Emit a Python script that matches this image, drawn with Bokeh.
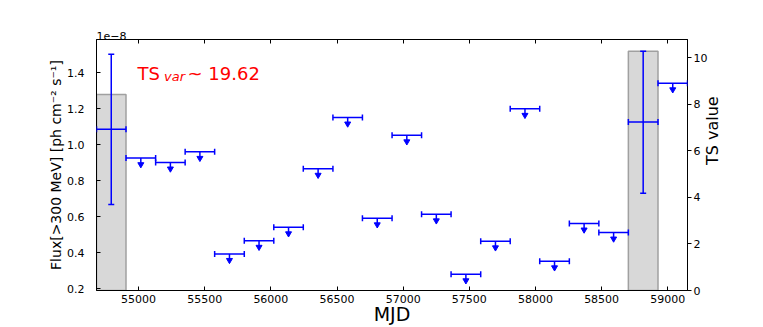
import math
from bokeh.plotting import figure
from bokeh.models import (Range1d, LinearAxis, FixedTicker, Whisker, TeeHead,
                          ColumnDataSource, Label, Title, PrintfTickFormatter)
from bokeh.embed import file_html
from bokeh.resources import INLINE

# ---------------- data (flux in units of 1e-8 ph cm^-2 s^-1) ----------------
bin_edges = [54682, 54905, 55129, 55352, 55575, 55799, 56022, 56245, 56469,
             56692, 56916, 57139, 57362, 57586, 57809, 58032, 58256, 58479,
             58702, 58926, 59149]

det_bins = [0, 18]
det_flux = [1.087, 1.126]
det_flux_lo = [0.668, 0.731]
det_flux_hi = [1.503, 1.520]
det_ts = [8.42, 10.27]

ul_bins = [1, 2, 3, 4, 5, 6, 7, 8, 9, 10, 11, 12, 13, 14, 15, 16, 17, 19]
ul_flux = [0.926, 0.902, 0.961, 0.394, 0.467, 0.542, 0.867, 1.152, 0.592,
           1.053, 0.614, 0.281, 0.464, 1.200, 0.353, 0.563, 0.513, 1.342]

x_ticks = [55000, 55500, 56000, 56500, 57000, 57500, 58000, 58500, 59000]
flux_ticks = [0.2, 0.4, 0.6, 0.8, 1.0, 1.2, 1.4]
ts_ticks = [0, 2, 4, 6, 8, 10]

ts_var = 19.62
# ---------------------------------------------------------------------------

FONT = "DejaVu Sans"
BLUE = "#0000ff"

x_lo, x_hi = bin_edges[0], bin_edges[-1]
y_lo, y_hi = 0.1906, 1.585
ts_hi = 10.78

p = figure(width=763, height=327, output_backend="svg", toolbar_location=None,
           x_range=Range1d(x_lo, x_hi), y_range=Range1d(y_lo, y_hi),
           min_border_left=96, min_border_right=76, min_border_top=39,
           min_border_bottom=37, background_fill_color="white",
           border_fill_color="white")
p.extra_y_ranges = {"ts": Range1d(0, ts_hi)}
p.xgrid.visible = False
p.ygrid.visible = False
p.outline_line_color = "black"
p.outline_line_width = 1


def style_axis(ax, ticks, tin, tout, standoff):
    ax.ticker = FixedTicker(ticks=ticks)
    ax.major_tick_in = tin
    ax.major_tick_out = tout
    ax.minor_tick_line_color = None
    ax.major_tick_line_color = "black"
    ax.axis_line_color = "black"
    ax.major_label_text_font = FONT
    ax.major_label_text_font_size = "11px"
    ax.major_label_text_color = "black"
    ax.major_label_standoff = standoff
    ax.axis_label_text_font = FONT
    ax.axis_label_text_font_style = "normal"
    ax.axis_label_text_color = "black"


xa = p.xaxis[0]
style_axis(xa, x_ticks, 4, 0, 4)
xa.axis_label = "MJD"
xa.axis_label_text_font_size = "19px"
xa.axis_label_standoff = -3

ya = p.yaxis[0]
style_axis(ya, flux_ticks, 4, 0, 12)
ya.formatter = PrintfTickFormatter(format="%.1f")
ya.axis_label = "Flux[>300 MeV] [ph cm\u207b\u00b2 s\u207b\u00b9]"
ya.axis_label_text_font_size = "14px"
ya.axis_label_standoff = 0

top = LinearAxis()
style_axis(top, x_ticks, 4, 0, 0)
top.major_label_overrides = {t: "" for t in x_ticks}
top.major_label_text_font_size = "1px"
p.add_layout(top, "above")

p.add_layout(Title(text="1e\u22128", align="left", offset=0, standoff=0,
                   text_font=FONT, text_font_size="11px",
                   text_font_style="normal", text_color="black"), "above")

right = LinearAxis(y_range_name="ts")
style_axis(right, ts_ticks, 0, 4, 2)
right.axis_label = "TS value"
right.axis_label_text_font_size = "16px"
right.axis_label_standoff = 2
try:
    right.axis_label_orientation = math.pi / 2
except Exception:
    pass
p.add_layout(right, "right")

# TS bars
p.quad(left=[bin_edges[i] for i in det_bins],
       right=[bin_edges[i + 1] for i in det_bins],
       bottom=0, top=det_ts, y_range_name="ts",
       fill_color="#d8d8d8", line_color="#a0a0a0", line_width=1.5)

# detections
centers = [(bin_edges[i] + bin_edges[i + 1]) / 2 for i in range(len(bin_edges) - 1)]
det_src = ColumnDataSource(dict(
    x=[centers[i] for i in det_bins],
    x0=[bin_edges[i] for i in det_bins],
    x1=[bin_edges[i + 1] for i in det_bins],
    y=det_flux, ylo=det_flux_lo, yhi=det_flux_hi))


def tee():
    return TeeHead(size=6, line_color=BLUE, line_width=1.5)


p.add_layout(Whisker(source=det_src, base="x", lower="ylo", upper="yhi",
                     dimension="height", line_color=BLUE, line_width=1.5,
                     upper_head=tee(), lower_head=tee(), level="annotation"))
p.add_layout(Whisker(source=det_src, base="y", lower="x0", upper="x1",
                     dimension="width", line_color=BLUE, line_width=1.5,
                     upper_head=tee(), lower_head=tee(), level="annotation"))

# upper limits
arrow_len = 0.035
ul_src = ColumnDataSource(dict(
    x=[centers[i] for i in ul_bins],
    x0=[bin_edges[i] for i in ul_bins],
    x1=[bin_edges[i + 1] for i in ul_bins],
    y=ul_flux,
    yend=[f - arrow_len for f in ul_flux]))
p.add_layout(Whisker(source=ul_src, base="y", lower="x0", upper="x1",
                     dimension="width", line_color=BLUE, line_width=1.5,
                     upper_head=tee(), lower_head=tee(), level="annotation"))
p.segment(x0="x", y0="y", x1="x", y1="yend", source=ul_src,
          line_color=BLUE, line_width=1.5)
p.scatter(x="x", y="yend", source=ul_src, marker="inverted_triangle",
          size=6, fill_color=BLUE, line_color=BLUE)

# TS_var annotation
p.add_layout(Label(x=x_lo, y=y_hi, x_offset=41, y_offset=-34.3, text="TS",
                   text_font=FONT, text_font_size="18px", text_color="red",
                   text_baseline="alphabetic", text_align="left"))
p.add_layout(Label(x=x_lo, y=y_hi, x_offset=67.5, y_offset=-36.5, text="var",
                   text_font=FONT, text_font_size="13px", text_color="red",
                   text_font_style="italic",
                   text_baseline="alphabetic", text_align="left"))
p.add_layout(Label(x=x_lo, y=y_hi, x_offset=91, y_offset=-34.3,
                   text="~ %.2f" % ts_var,
                   text_font=FONT, text_font_size="18px", text_color="red",
                   text_baseline="alphabetic", text_align="left"))

open("out.html", "w").write(file_html(p, INLINE))
